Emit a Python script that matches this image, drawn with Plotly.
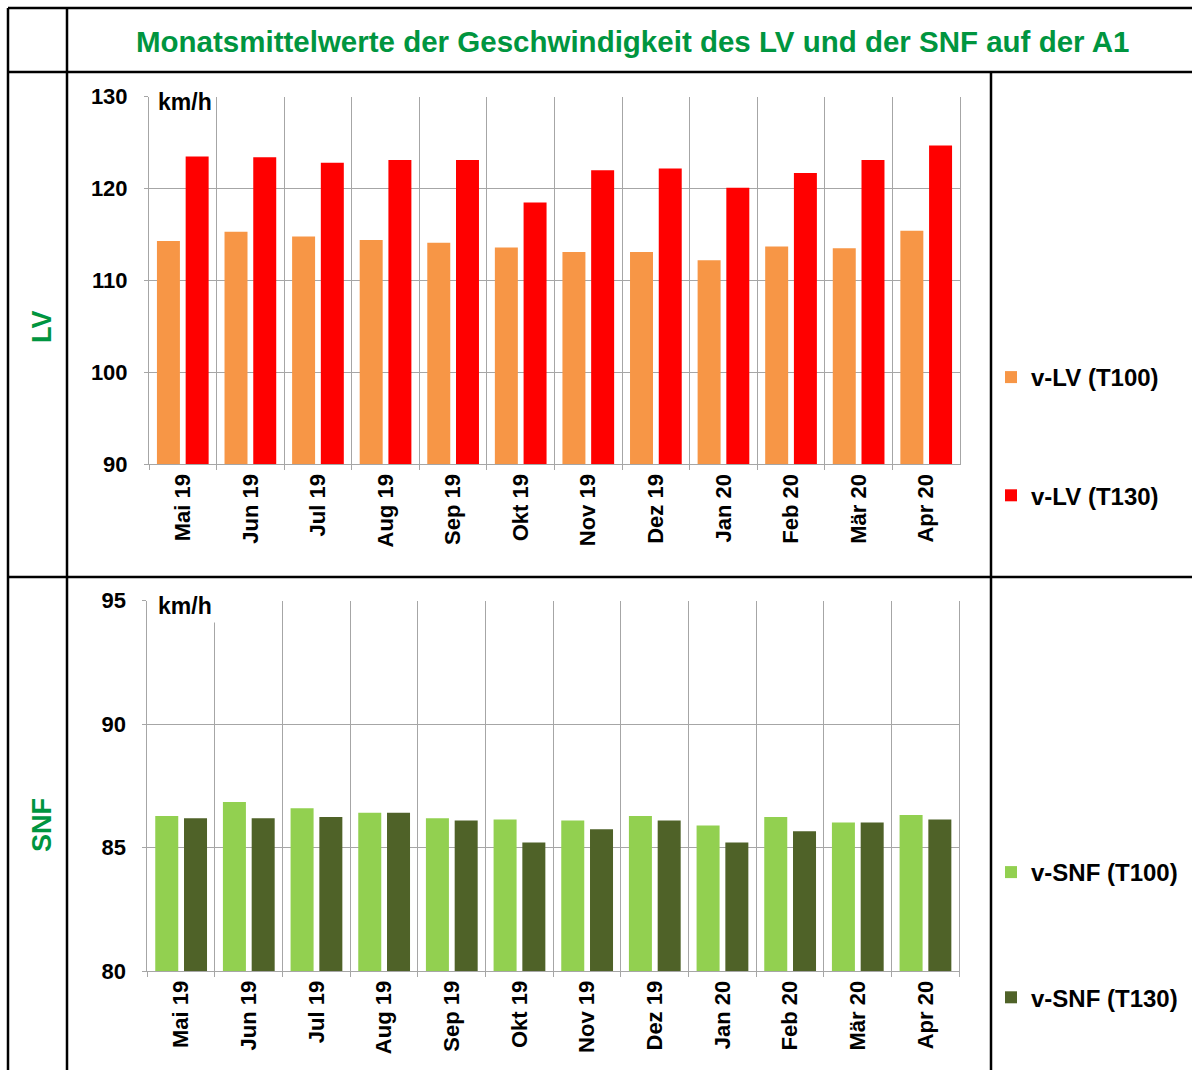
import plotly.graph_objects as go

W, H = 1192, 1070

months = ["Mai 19", "Jun 19", "Jul 19", "Aug 19", "Sep 19", "Okt 19",
          "Nov 19", "Dez 19", "Jan 20", "Feb 20", "Mär 20", "Apr 20"]

lv_t100 = [114.3, 115.3, 114.8, 114.4, 114.1, 113.6, 113.1, 113.1, 112.2, 113.7, 113.5, 115.4]
lv_t130 = [123.5, 123.4, 122.8, 123.1, 123.1, 118.5, 122.0, 122.2, 120.1, 121.7, 123.1, 124.7]

snf_t100 = [86.28, 86.85, 86.59, 86.41, 86.19, 86.14, 86.10, 86.28, 85.89, 86.24, 86.02, 86.32]
snf_t130 = [86.19, 86.19, 86.24, 86.41, 86.10, 85.21, 85.74, 86.10, 85.21, 85.66, 86.02, 86.14]

lv_names = ["v-LV (T100)", "v-LV (T130)"]
snf_names = ["v-SNF (T100)", "v-SNF (T130)"]

title_text = "Monatsmittelwerte der Geschwindigkeit des LV und der SNF auf der A1"
row_labels = ["LV", "SNF"]
unit = "km/h"

C_ORANGE = "#F79646"
C_RED = "#FF0000"
C_LGREEN = "#92D050"
C_DGREEN = "#4F6228"
C_TITLE = "#00953F"
GRID = "#A6A6A6"
FONT = "Liberation Sans"


def px(x):
    return x / W


def py(y):
    return 1 - y / H


fig = go.Figure()

fig.add_trace(go.Bar(x=months, y=lv_t100, name=lv_names[0], marker_color=C_ORANGE,
                     xaxis="x", yaxis="y", legend="legend", legendgroup="a"))
fig.add_trace(go.Bar(x=months, y=lv_t130, name=lv_names[1], marker_color=C_RED,
                     xaxis="x", yaxis="y", legend="legend", legendgroup="b"))
fig.add_trace(go.Bar(x=months, y=snf_t100, name=snf_names[0], marker_color=C_LGREEN,
                     xaxis="x2", yaxis="y2", legend="legend2", legendgroup="c"))
fig.add_trace(go.Bar(x=months, y=snf_t130, name=snf_names[1], marker_color=C_DGREEN,
                     xaxis="x2", yaxis="y2", legend="legend2", legendgroup="d"))

fig.update_traces(marker_line_width=0)

xtickfont = dict(family=FONT, size=22, color="black", weight="bold")
ytickfont = dict(family=FONT, size=22, color="black", weight="bold")

xcommon = dict(type="category", tickson="boundaries", showgrid=True, gridcolor=GRID,
               gridwidth=1, showline=True, linecolor=GRID, linewidth=1,
               ticks="outside", ticklen=5, tickcolor=GRID, tickangle=-90,
               tickfont=xtickfont, range=[-0.5, 11.5], fixedrange=True,
               zeroline=False, automargin=False)
ycommon = dict(showgrid=True, gridcolor=GRID, gridwidth=1, showline=True,
               linecolor=GRID, linewidth=1, mirror=True, ticks="outside",
               ticklen=4, tickcolor=GRID, tickfont=ytickfont, zeroline=False,
               ticklabelstandoff=12, automargin=False)

legfont = dict(family=FONT, size=24, color="black", weight="bold")

fig.update_layout(
    width=W, height=H,
    margin=dict(l=0, r=0, t=0, b=0, pad=0, autoexpand=False),
    paper_bgcolor="white", plot_bgcolor="white",
    barmode="group", bargap=0.15, bargroupgap=0.2,
    xaxis=dict(domain=[px(149), px(960)], anchor="y", **xcommon),
    yaxis=dict(domain=[py(464.3), py(96.7)], anchor="x", range=[90, 130], dtick=10, **ycommon),
    xaxis2=dict(domain=[px(147.3), px(959.3)], anchor="y2", **xcommon),
    yaxis2=dict(domain=[py(971), py(600.7)], anchor="x2", range=[80, 95], dtick=5, **ycommon),
    legend=dict(x=px(991), y=py(355), xanchor="left", yanchor="top",
                font=legfont, tracegroupgap=84, traceorder="grouped", itemwidth=30,
                bgcolor="rgba(0,0,0,0)"),
    legend2=dict(x=px(991), y=py(850), xanchor="left", yanchor="top",
                 font=legfont, tracegroupgap=91, traceorder="grouped", itemwidth=30,
                 bgcolor="rgba(0,0,0,0)"),
    showlegend=True,
)

# table grid lines
lines = [
    (8, 8, W, 8),
    (8, 72, W, 72),
    (8, 577, W, 577),
    (8, 8, 8, H),
    (67, 8, 67, H),
    (991, 72, 991, H),
]
for x0, y0, x1, y1 in lines:
    fig.add_shape(type="line", xref="paper", yref="paper",
                  x0=px(x0), y0=py(y0), x1=px(x1), y1=py(y1),
                  line=dict(color="black", width=2.5))

# title
fig.add_annotation(text=title_text, xref="paper", yref="paper", x=px(632), y=py(41),
                   xanchor="center", yanchor="middle", showarrow=False,
                   font=dict(family=FONT, size=29.5, color=C_TITLE, weight="bold"))

# row labels
for lbl, yc in zip(row_labels, [327, 825]):
    fig.add_annotation(text=lbl, xref="paper", yref="paper", x=px(42), y=py(yc),
                       xanchor="center", yanchor="middle", showarrow=False, textangle=-90,
                       font=dict(family=FONT, size=27, color=C_TITLE, weight="bold"))

# unit labels
for yc in [101.5, 605.5]:
    fig.add_annotation(text=unit, xref="paper", yref="paper", x=px(154), y=py(yc),
                       xanchor="left", yanchor="middle", showarrow=False,
                       bgcolor="white", borderpad=3,
                       font=dict(family=FONT, size=23, color="black", weight="bold"))

fig.write_html("out.html", post_script="document.body.style.margin='0';",
               config={"displayModeBar": False})
